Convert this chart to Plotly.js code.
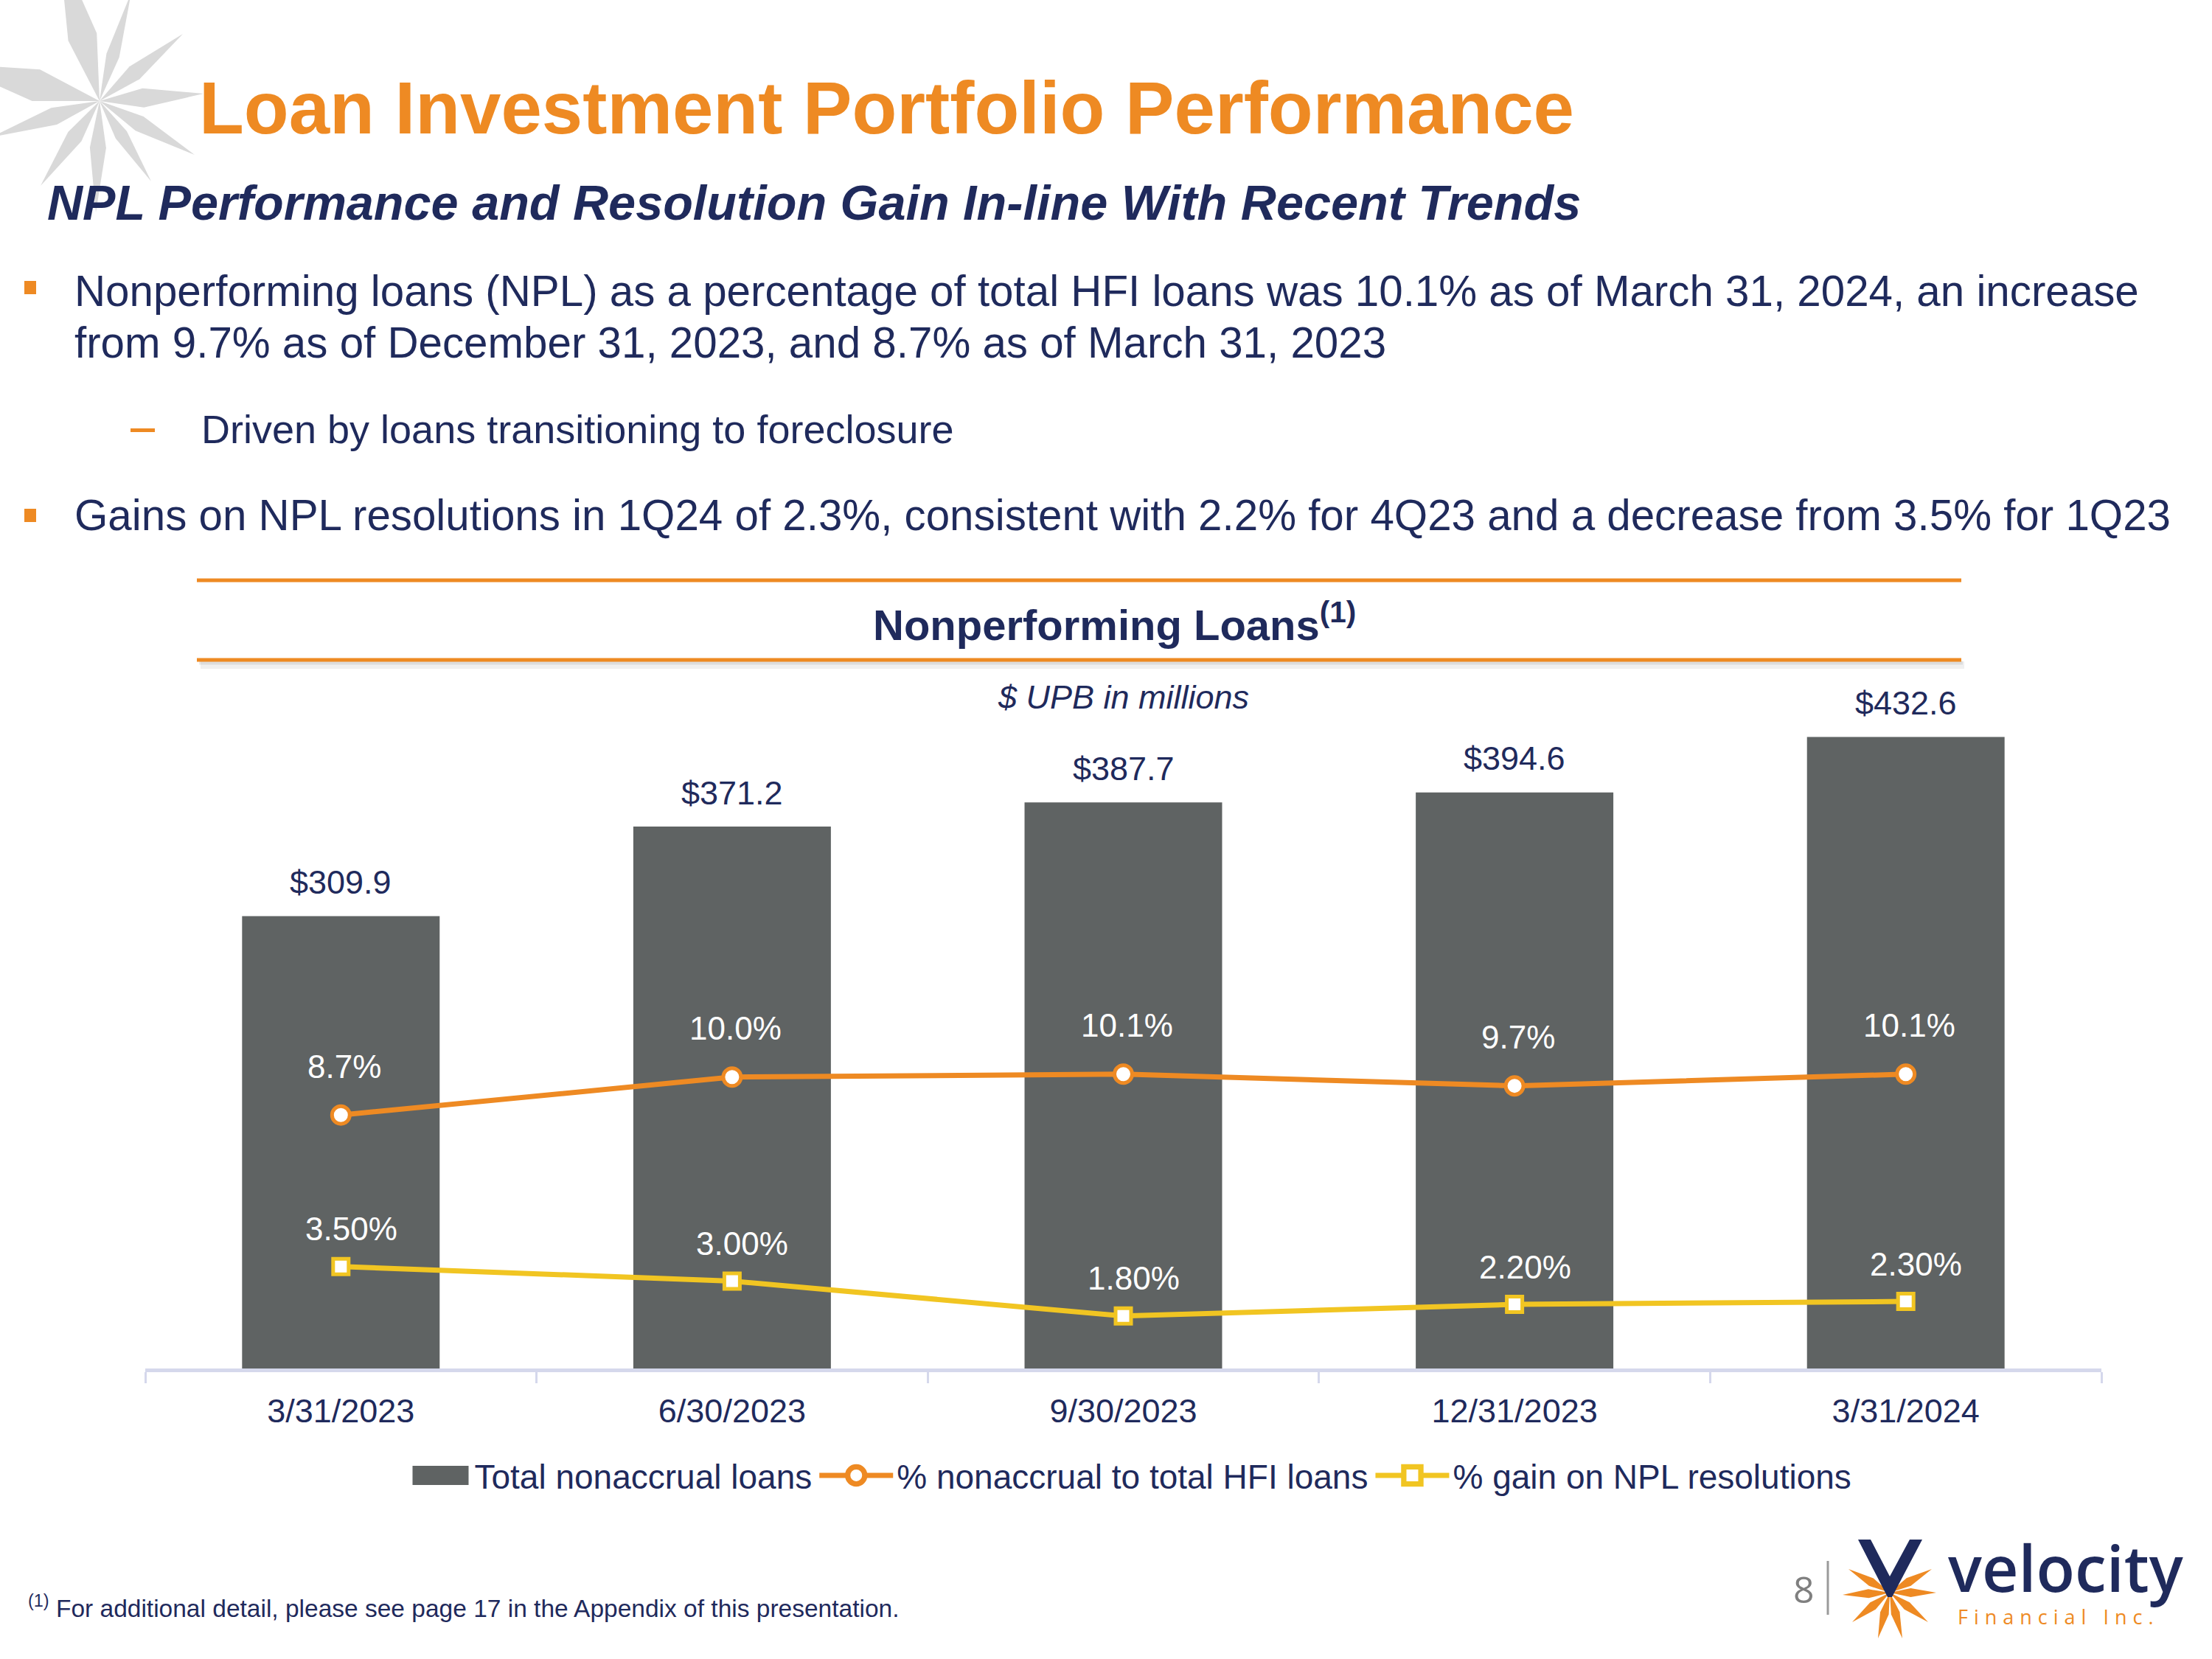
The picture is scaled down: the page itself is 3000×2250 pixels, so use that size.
<!DOCTYPE html>
<html>
<head>
<meta charset="utf-8">
<script src="https://cdn.plot.ly/plotly-3.0.1.min.js"></script>
<style>html,body{margin:0;padding:0;background:#fff;}#chart{width:3000px;height:2250px;}</style>
</head>
<body>
<div id="chart"></div>
<script>
// ---- data ----
const categories = ['3/31/2023', '6/30/2023', '9/30/2023', '12/31/2023', '3/31/2024'];
const nonaccrualLoans = [309.9, 371.2, 387.7, 394.6, 432.6];      // $ UPB in millions
const pctNonaccrual = [8.7, 10.0, 10.1, 9.7, 10.1];               // % nonaccrual to total HFI loans
const pctGainNPL = [3.50, 3.00, 1.80, 2.20, 2.30];                // % gain on NPL resolutions
const seriesNames = ['Total nonaccrual loans', '% nonaccrual to total HFI loans', '% gain on NPL resolutions'];

// ---- style ----
const FONT = 'Liberation Sans, Arial, sans-serif';
const NAVY = '#1F2A5C';
const ORANGE = '#EE8A23';
const YELLOW = '#F1C522';
const BARGRAY = '#5F6363';
const AXIS = '#D5D8EC';

const W = 3000, H = 2250;
const M = {l: 197, r: 150, t: 866, b: 394};
const PW = W - M.l - M.r, PH = H - M.t - M.b;
const X = px => (px - M.l) / PW;
const Y = py => (H - M.b - py) / PH;

function txt(text, px, py, size, color, opts) {
  return Object.assign({
    text: text, xref: 'paper', yref: 'paper', x: X(px), y: Y(py),
    xanchor: 'left', yanchor: 'middle', showarrow: false,
    font: {family: FONT, size: size, color: color}
  }, opts || {});
}
function pathShape(pts, fill, layer) {
  const d = pts.map((p, i) => (i ? 'L' : 'M') + X(p[0]).toFixed(5) + ',' + Y(p[1]).toFixed(5)).join(' ') + ' Z';
  return {type: 'path', xref: 'paper', yref: 'paper', path: d, fillcolor: fill, line: {width: 0}, layer: layer || 'above'};
}
function ray(c, t, w, f) {
  const dx = t[0] - c[0], dy = t[1] - c[1];
  const L = Math.hypot(dx, dy), nx = -dy / L, ny = dx / L;
  const mx = c[0] + dx * f, my = c[1] + dy * f;
  return [c, [mx + nx * w, my + ny * w], t, [mx - nx * w, my - ny * w]];
}
function rectShape(x0, y0, x1, y1, color) {
  return {type: 'rect', xref: 'paper', yref: 'paper', x0: X(x0), x1: X(x1), y0: Y(y1), y1: Y(y0),
          fillcolor: color, line: {width: 0}, layer: 'above'};
}
function lineShape(x0, y0, x1, y1, color, width) {
  return {type: 'line', xref: 'paper', yref: 'paper', x0: X(x0), x1: X(x1), y0: Y(y0), y1: Y(y1),
          line: {color: color, width: width}, layer: 'above'};
}

// ---- traces ----
const traces = [
  {type: 'bar', name: seriesNames[0], x: categories, y: nonaccrualLoans,
   marker: {color: BARGRAY}, hoverinfo: 'skip'},
  {type: 'scatter', mode: 'lines+markers', name: seriesNames[1], x: categories, y: pctNonaccrual, yaxis: 'y2',
   line: {color: ORANGE, width: 7},
   marker: {symbol: 'circle', size: 24, color: '#FFFFFF', line: {color: ORANGE, width: 5}}, hoverinfo: 'skip'},
  {type: 'scatter', mode: 'lines+markers', name: seriesNames[2], x: categories, y: pctGainNPL, yaxis: 'y2',
   line: {color: YELLOW, width: 7},
   marker: {symbol: 'square', size: 21, color: '#FFFFFF', line: {color: YELLOW, width: 5}}, hoverinfo: 'skip'}
];

// ---- annotations ----
const ann = [];
ann.push(txt('<b>Loan Investment Portfolio Performance</b>', 268, 146, 99.6, ORANGE));
ann.push(txt('<b><i>NPL Performance and Resolution Gain In-line With Recent Trends</i></b>', 62, 275, 66.6, NAVY));
ann.push(txt('Nonperforming loans (NPL) as a percentage of total HFI loans was 10.1% as of March 31, 2024, an increase', 99, 395, 58.3, NAVY));
ann.push(txt('from 9.7% as of December 31, 2023, and 8.7% as of March 31, 2023', 99, 465, 58.3, NAVY));
ann.push(txt('Driven by loans transitioning to foreclosure', 271, 582, 54, NAVY));
ann.push(txt('Gains on NPL resolutions in 1Q24 of 2.3%, consistent with 2.2% for 4Q23 and a decrease from 3.5% for 1Q23', 99, 699, 58.3, NAVY));
ann.push(txt('<b>Nonperforming Loans</b><sup><b>(1)</b></sup>', 1511, 843, 58, NAVY, {xanchor: 'center'}));
ann.push(txt('<i>$ UPB in millions</i>', 1523, 945, 45, NAVY, {xanchor: 'center'}));
ann.push(txt('<sup>(1)</sup> For additional detail, please see page 17 in the Appendix of this presentation.', 36, 2179, 33.5, NAVY));
ann.push(txt('8', 2446, 2155, 50, '#7F7F7F', {xanchor: 'center', font: {family: 'Open Sans, ' + FONT, size: 50, color: '#7F7F7F'}}));
ann.push(txt('velocity', 2640, 2125, 86, NAVY, {font: {family: 'Open Sans, ' + FONT, size: 86, color: NAVY, weight: 600}}));
ann.push(txt('<span style="letter-spacing:8px">Financial Inc.</span>', 2792, 2192, 27, ORANGE,
  {xanchor: 'center', font: {family: 'Open Sans, ' + FONT, size: 27, color: ORANGE}}));

categories.forEach((c, i) => {
  ann.push({xref: 'x', yref: 'y', x: c, y: nonaccrualLoans[i], text: '$' + nonaccrualLoans[i].toFixed(1),
    showarrow: false, yanchor: 'middle', yshift: 46, font: {family: FONT, size: 45, color: NAVY}});
  ann.push({xref: 'x', yref: 'y2', x: c, y: pctNonaccrual[i], text: pctNonaccrual[i].toFixed(1) + '%',
    showarrow: false, yanchor: 'middle', yshift: 66, xshift: 5, font: {family: FONT, size: 44, color: '#FFFFFF'}});
  ann.push({xref: 'x', yref: 'y2', x: c, y: pctGainNPL[i], text: pctGainNPL[i].toFixed(2) + '%',
    showarrow: false, yanchor: 'middle', yshift: 51, xshift: 14, font: {family: FONT, size: 44, color: '#FFFFFF'}});
});

// ---- shapes ----
const shapes = [];
// decorative grey star (top-left)
const gc = [135, 137];
[[80, -70, 20], [178, -10, 9], [248, 46, 11], [276, 127, 13], [264, 210, 11], [205, 246, 9],
 [130, 288, 11], [55, 252, 11], [-12, 186, 12], [-70, 86, 22]].forEach(t => {
  shapes.push(pathShape(ray(gc, [t[0], t[1]], t[2], 0.42), '#D9D9D9', 'below'));
});
// bullets
shapes.push(rectShape(33, 381, 49, 399, ORANGE));
shapes.push(rectShape(33, 690, 49, 708, ORANGE));
shapes.push(rectShape(177, 581, 210, 586, ORANGE));
// chart header rules
shapes.push(lineShape(267, 787, 2660, 787, ORANGE, 5));
shapes.push(lineShape(272, 902, 2664, 902, 'rgba(0,0,0,0.06)', 10));
shapes.push(lineShape(270, 899, 2662, 899, 'rgba(0,0,0,0.08)', 5));
shapes.push(lineShape(267, 895, 2660, 895, ORANGE, 5));
// footer divider
shapes.push(lineShape(2479, 2117, 2479, 2190, '#9A9A9A', 3));
// logo star
const lc = [2563, 2160];
[[2499, 2163], [2626, 2160], [2507, 2128], [2620, 2128], [2512, 2200], [2615, 2200], [2547, 2222], [2580, 2222]].forEach(t => {
  shapes.push(pathShape(ray(lc, t, 6, 0.45), ORANGE));
});
shapes.push(pathShape([[2520, 2088], [2537, 2088], [2563, 2138], [2590, 2088], [2607, 2088], [2566, 2166], [2560, 2166]], NAVY));

const layout = {
  width: W, height: H,
  margin: M,
  paper_bgcolor: '#FFFFFF', plot_bgcolor: 'rgba(0,0,0,0)',
  font: {family: FONT, color: NAVY},
  showlegend: true,
  bargap: 0.495,
  xaxis: {
    type: 'category', range: [-0.5, 4.5], showgrid: false, zeroline: false,
    showline: true, linecolor: AXIS, linewidth: 5,
    ticks: 'outside', tickson: 'boundaries', ticklen: 15, tickwidth: 3, tickcolor: AXIS,
    ticklabelstandoff: 14,
    tickfont: {family: FONT, size: 45, color: NAVY}
  },
  yaxis: {range: [0, 500], visible: false, showgrid: false, zeroline: false, fixedrange: true},
  yaxis2: {range: [0, 25.05], overlaying: 'y', side: 'right', visible: false, showgrid: false, zeroline: false},
  legend: {
    orientation: 'h', x: X(1525), xanchor: 'center', y: Y(2001), yanchor: 'middle',
    font: {family: FONT, size: 46, color: NAVY}, itemwidth: 100, bgcolor: 'rgba(0,0,0,0)',
    traceorder: 'normal'
  },
  annotations: ann,
  shapes: shapes
};

Plotly.newPlot('chart', traces, layout, {displayModeBar: false, staticPlot: true}).then(() => {
  try {
    const items = document.querySelectorAll('.legend .traces');
    if (items.length) {
      const p = items[0].querySelector('.legendpoints path');
      const t = items[0].querySelector('text.legendtext');
      if (p && t) {
        const b = p.getBBox();
        const pr = p.getBoundingClientRect();
        const tr = t.getBoundingClientRect();
        const cxLocal = b.x + b.width / 2, cyLocal = b.y + b.height / 2;
        const cxScreen = pr.left + pr.width / 2;
        const rightScreen = tr.left - 8;
        const right = cxLocal + (rightScreen - cxScreen);
        const left = right - 76, hh = 13;
        p.setAttribute('d', 'M' + right + ',' + (cyLocal + hh) + 'H' + left + 'V' + (cyLocal - hh) + 'H' + right + 'Z');
      }
      for (let k = 1; k < items.length; k++) {
        items[k].querySelectorAll('.legendpoints path.scatterpts').forEach(m => {
          const tf = m.getAttribute('transform') || '';
          m.setAttribute('transform', tf + ' scale(1.45)');
        });
      }
    }
  } catch (e) {}
});
</script>
</body>
</html>
